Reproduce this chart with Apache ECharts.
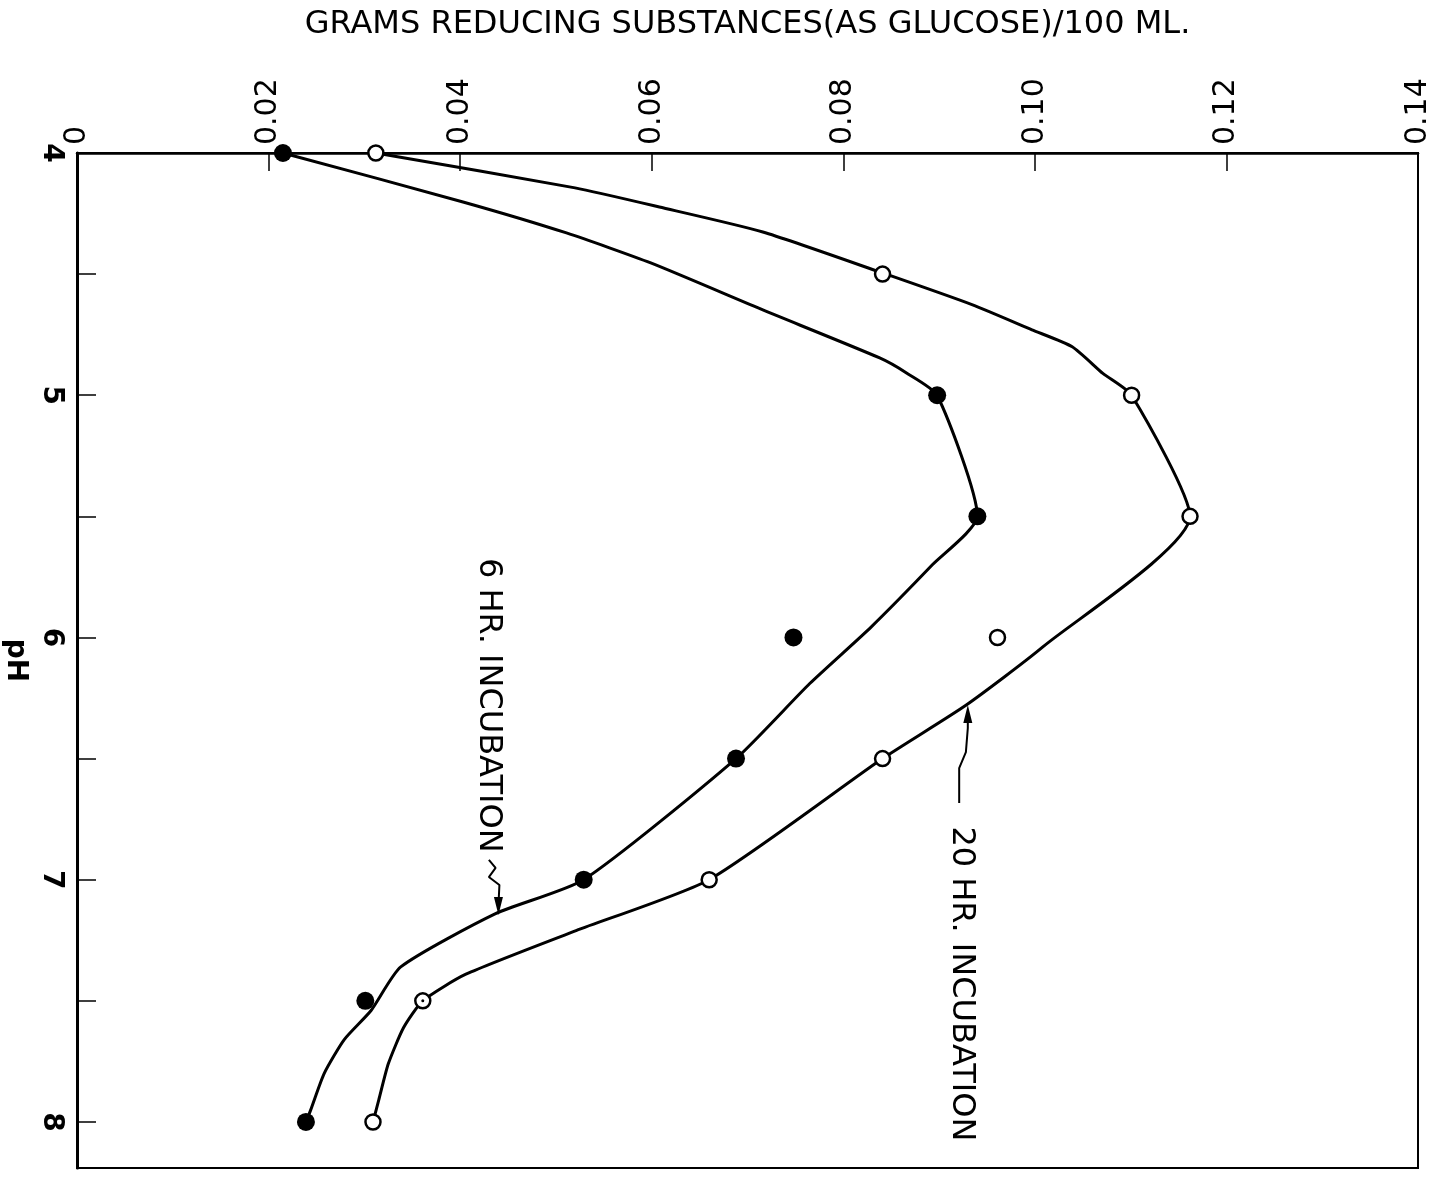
<!DOCTYPE html>
<html>
<head>
<meta charset="utf-8">
<script src="https://cdn.jsdelivr.net/npm/echarts@6/dist/echarts.min.js"></script>
<style>
html,body{margin:0;padding:0;background:#fff;}
#chart{width:1438px;height:1179px;}
</style>
</head>
<body>
<div id="chart"></div>
<script>
// measured points
const pH = [4, 4.5, 5, 5.5, 6, 6.5, 7, 7.5, 8];
const hr6 = [0.0215, null, 0.0898, 0.0940, 0.0748, 0.0688, 0.0529, 0.0301, 0.0239];
const hr20 = [0.0312, 0.0841, 0.1101, 0.1162, 0.0961, 0.0841, 0.0660, 0.0361, 0.0309];

// hand-drawn fitted curves
const curve6pH = [4.0, 4.202, 4.330, 4.454, 4.648, 4.846, 4.908, 5.0, 5.5, 5.70, 5.957, 6.19, 6.5, 7.0, 7.14, 7.36, 7.54, 7.66, 7.80, 7.95, 8.0];
const curve6val = [0.0215, 0.0403, 0.0511, 0.0599, 0.0716, 0.0838, 0.0866, 0.0898, 0.0940, 0.0893, 0.0829, 0.0765, 0.0688, 0.0529, 0.0437, 0.0338, 0.0307, 0.0279, 0.0258, 0.0244, 0.0239];
const curve20pH = [4.0, 4.144, 4.223, 4.326, 4.491, 4.627, 4.73, 4.80, 4.91, 5.0, 5.5, 6.04, 6.28, 6.5, 7.0, 7.21, 7.39, 7.5, 7.61, 7.76, 7.91, 8.0];
const curve20val = [0.0312, 0.0520, 0.0608, 0.0716, 0.0838, 0.0935, 0.0997, 0.1039, 0.1071, 0.1101, 0.1162, 0.1008, 0.0928, 0.0841, 0.0660, 0.0521, 0.0406, 0.0361, 0.0341, 0.0325, 0.0315, 0.0309];

// axis ticks
const valueTicks = [0, 0.02, 0.04, 0.06, 0.08, 0.10, 0.12, 0.14];
const pHTicks = [4, 5, 6, 7, 8];

// labels
const xTitle = 'GRAMS REDUCING SUBSTANCES(AS GLUCOSE)/100 ML.';
const yTitle = 'pH';
const label6 = '6 HR. INCUBATION';
const label20 = '20 HR. INCUBATION';

const FONT = 'DejaVu Sans';
const chart = echarts.init(document.getElementById('chart'), null, {renderer: 'canvas'});

const pts6 = pH.map((p, i) => hr6[i] == null ? null : [hr6[i], p]).filter(d => d);
const pts20 = pH.map((p, i) => [hr20[i], p]);
const dotted20 = [[hr20[7], pH[7]]]; // the circle with a centre dot
const c6 = curve6pH.map((p, i) => [curve6val[i], p]);
const c20 = curve20pH.map((p, i) => [curve20val[i], p]);

const thinLine = {color: '#000', width: 2};
const option = {
  backgroundColor: '#fff',
  animation: false,
  grid: {left: 77, right: 20, top: 153, bottom: 11, outerBoundsMode: 'none', containLabel: false,
    show: true, borderColor: '#000', borderWidth: 2, backgroundColor: 'transparent'},
  xAxis: {
    type: 'value', position: 'top', min: 0, max: 0.14, interval: 0.02,
    name: xTitle, nameLocation: 'middle', nameGap: 112,
    nameTextStyle: {fontFamily: FONT, fontSize: 32, color: '#000'},
    axisLine: {show: true, lineStyle: {color: '#000', width: 2.5}},
    axisTick: {show: true, inside: true, length: 18, lineStyle: {color: '#000', width: 1.5}},
    splitLine: {show: false},
    axisLabel: {
      rotate: -90, margin: 8, fontFamily: FONT, fontSize: 30, color: '#000',
      formatter: v => {
        const t = valueTicks.find(x => Math.abs(x - v) < 1e-9);
        if (t === undefined) return '';
        return t === 0 ? '0' : t.toFixed(2);
      }
    }
  },
  yAxis: {
    type: 'value', inverse: true, min: 4, max: 8.19, interval: 0.5,
    name: yTitle, nameLocation: 'middle', nameGap: 33, nameRotate: -90,
    nameTextStyle: {fontFamily: FONT, fontSize: 28, color: '#000', fontWeight: 'bold'},
    axisLine: {show: true, lineStyle: {color: '#000', width: 3}},
    axisTick: {show: true, inside: true, length: 19, lineStyle: {color: '#000', width: 1.5}},
    splitLine: {show: false},
    axisLabel: {
      rotate: -90, margin: 12, fontFamily: FONT, fontSize: 28, color: '#000', fontWeight: 'bold',
      formatter: v => pHTicks.some(x => Math.abs(x - v) < 1e-9) ? String(Math.round(v)) : ''
    }
  },
  series: [
    {type: 'line', data: c6, smooth: 0.2, symbol: 'none', lineStyle: {color: '#000', width: 3}, z: 2},
    {type: 'line', data: c20, smooth: 0.2, symbol: 'none', lineStyle: {color: '#000', width: 3}, z: 2},
    {type: 'scatter', data: pts6, symbol: 'circle', symbolSize: 18, itemStyle: {color: '#000', opacity: 1}, z: 5},
    {type: 'scatter', data: pts20, symbol: 'circle', symbolSize: 15, itemStyle: {color: '#fff', borderColor: '#000', borderWidth: 2.5, opacity: 1}, z: 5},
    {type: 'scatter', data: dotted20, symbol: 'circle', symbolSize: 3, itemStyle: {color: '#000', opacity: 1}, z: 6, silent: true},
    {
      type: 'scatter', symbolSize: 0, z: 6, silent: true,
      itemStyle: {opacity: 1},
      data: [
        {value: [0.0429, 6.28], label: {formatter: label6}},
        {value: [0.0923, 7.43], label: {formatter: label20}}
      ],
      label: {show: true, position: 'inside', rotate: -90, fontFamily: FONT, fontSize: 32, color: '#000', opacity: 1}
    },
    // annotation leader squiggles
    {type: 'line', symbol: 'none', silent: true, z: 4, lineStyle: thinLine,
      data: [[0.0430, 6.918], [0.0437, 6.951], [0.0430, 6.989], [0.0441, 7.022], [0.0440, 7.104]]},
    {type: 'line', symbol: 'none', silent: true, z: 4, lineStyle: thinLine,
      data: [[0.0921, 6.683], [0.0921, 6.539], [0.0928, 6.473], [0.0930, 6.374], [0.0930, 6.307]]},
    // arrow heads
    {type: 'scatter', silent: true, z: 4, symbol: 'triangle', symbolSize: [9, 18],
      itemStyle: {color: '#000', opacity: 1},
      data: [
        {value: [0.0440, 7.108], symbolRotate: 180},
        {value: [0.0930, 6.316], symbolRotate: 0}
      ]}
  ]
};
chart.setOption(option);
</script>
</body>
</html>
